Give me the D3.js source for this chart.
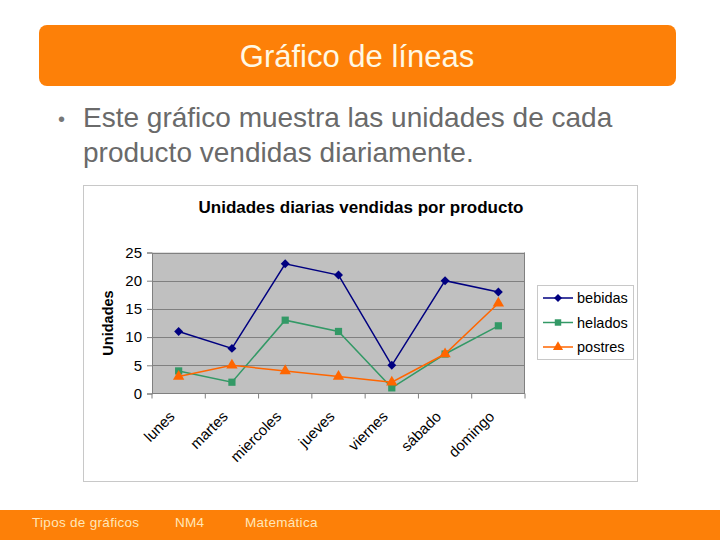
<!DOCTYPE html>
<html>
<head>
<meta charset="utf-8">
<script src="https://cdn.jsdelivr.net/npm/d3@7"></script>
<style>
  html, body { margin: 0; padding: 0; background: #fff; }
  svg { display: block; font-family: "Liberation Sans", Arial, sans-serif; }
</style>
</head>
<body>
<div id="viz"></div>
<script>
const days = ["lunes", "martes", "miercoles", "jueves", "viernes", "sábado", "domingo"];
const bebidas = [11, 8, 23, 21, 5, 20, 18];
const helados = [4, 2, 13, 11, 1, 7, 12];
const postres = [3, 5, 4, 3, 2, 7, 16];
const yTicks = [0, 5, 10, 15, 20, 25];
const footerItems = [
  { text: "Tipos de gráficos", x: 32 },
  { text: "NM4", x: 175 },
  { text: "Matemática", x: 245 },
];

// diamond = square turned 45 degrees, like the spreadsheet marker
const series = [
  { name: "bebidas", values: bebidas, color: "#000080", symbol: d3.symbolSquare, size: 40, rot: 45 },
  { name: "helados", values: helados, color: "#339966", symbol: d3.symbolSquare, size: 52, rot: 0 },
  { name: "postres", values: postres, color: "#FF6600", symbol: d3.symbolTriangle, size: 56, rot: 0 },
];

const W = 720, H = 540;
const svg = d3.select("#viz").append("svg").attr("width", W).attr("height", H);

// slide header
svg.append("rect")
  .attr("x", 39).attr("y", 25).attr("width", 637).attr("height", 61)
  .attr("rx", 8).attr("fill", "#FD8008");
svg.append("text")
  .attr("x", 357).attr("y", 67)
  .attr("text-anchor", "middle")
  .attr("fill", "#FFF8E4").attr("font-size", 31)
  .text("Gráfico de líneas");

// bullet text
svg.append("text").attr("x", 58).attr("y", 126)
  .attr("fill", "#777").attr("font-size", 20).text("•");
svg.append("text").attr("x", 83).attr("y", 127)
  .attr("fill", "#6a6a6a").attr("font-size", 28)
  .text("Este gráfico muestra las unidades de cada");
svg.append("text").attr("x", 83).attr("y", 162)
  .attr("fill", "#6a6a6a").attr("font-size", 28)
  .text("producto vendidas diariamente.");

// chart frame
svg.append("rect")
  .attr("x", 83.5).attr("y", 185.5).attr("width", 554).attr("height", 296)
  .attr("fill", "#fff").attr("stroke", "#c8c8c8");

svg.append("text")
  .attr("x", 361).attr("y", 213)
  .attr("text-anchor", "middle")
  .attr("font-weight", "bold").attr("font-size", 17)
  .attr("fill", "#000")
  .text("Unidades diarias vendidas por producto");

const plot = { left: 152, right: 525, top: 252.5, bottom: 393.5 };

const x = d3.scaleBand().domain(days).range([plot.left, plot.right]);
const y = d3.scaleLinear().domain([0, 25]).range([plot.bottom, plot.top]);

svg.append("rect")
  .attr("x", plot.left).attr("y", plot.top)
  .attr("width", plot.right - plot.left).attr("height", plot.bottom - plot.top)
  .attr("fill", "#C0C0C0");

// gridlines
svg.append("g")
  .selectAll("line")
  .data(yTicks.filter((t) => t > 0))
  .join("line")
  .attr("x1", plot.left).attr("x2", plot.right)
  .attr("y1", (d) => Math.round(y(d)) + 0.5).attr("y2", (d) => Math.round(y(d)) + 0.5)
  .attr("stroke", "#808080");

svg.append("line")
  .attr("x1", plot.right - 0.5).attr("x2", plot.right - 0.5)
  .attr("y1", plot.top).attr("y2", plot.bottom)
  .attr("stroke", "#808080");

// y axis
const yAxis = svg.append("g")
  .attr("transform", `translate(${plot.left},0)`)
  .call(d3.axisLeft(y).tickValues(yTicks).tickSize(5).tickPadding(5));
yAxis.select(".domain").attr("stroke", "#808080");
yAxis.selectAll(".tick line").attr("stroke", "#808080");
yAxis.selectAll(".tick text")
  .attr("font-size", 15).attr("fill", "#000")
  .attr("font-family", "Liberation Sans, Arial, sans-serif");

svg.append("text")
  .attr("transform", `translate(113,323) rotate(-90)`)
  .attr("text-anchor", "middle")
  .attr("font-weight", "bold").attr("font-size", 14.5)
  .text("Unidades");

// x axis: ticks between categories
const xAxis = svg.append("g").attr("transform", `translate(0,${plot.bottom})`);
xAxis.append("line")
  .attr("x1", plot.left).attr("x2", plot.right)
  .attr("stroke", "#808080");
xAxis.selectAll("line.tk")
  .data(days.concat(["end"]))
  .join("line")
  .attr("class", "tk")
  .attr("x1", (d, i) => plot.left + i * x.step())
  .attr("x2", (d, i) => plot.left + i * x.step())
  .attr("y1", 0).attr("y2", 5)
  .attr("stroke", "#808080");
xAxis.selectAll("text")
  .data(days)
  .join("text")
  .attr("transform", (d) => `translate(${x(d) + x.bandwidth() / 2 - 3},${24}) rotate(-45)`)
  .attr("text-anchor", "end")
  .attr("font-size", 15)
  .attr("fill", "#000")
  .text((d) => d);

// lines and markers
const line = d3.line()
  .x((d, i) => x(days[i]) + x.bandwidth() / 2)
  .y((d) => y(d));

series.forEach((s) => {
  const g = svg.append("g");
  g.append("path")
    .attr("d", line(s.values))
    .attr("fill", "none")
    .attr("stroke", s.color)
    .attr("stroke-width", 1.5);
  g.selectAll("path.pt")
    .data(s.values)
    .join("path")
    .attr("class", "pt")
    .attr("transform", (d, i) => `translate(${x(days[i]) + x.bandwidth() / 2},${y(d)}) rotate(${s.rot})`)
    .attr("d", d3.symbol().type(s.symbol).size(s.size))
    .attr("fill", s.color);
});

// legend
const legend = svg.append("g");
legend.append("rect")
  .attr("x", 537.5).attr("y", 285.5).attr("width", 96).attr("height", 74)
  .attr("fill", "#fff").attr("stroke", "#c8c8c8");
series.forEach((s, i) => {
  const ly = 298 + i * 24.5;
  legend.append("line")
    .attr("x1", 543).attr("x2", 573).attr("y1", ly).attr("y2", ly)
    .attr("stroke", s.color).attr("stroke-width", 1.5);
  legend.append("path")
    .attr("transform", `translate(558,${ly}) rotate(${s.rot})`)
    .attr("d", d3.symbol().type(s.symbol).size(s.size * 0.8))
    .attr("fill", s.color);
  legend.append("text")
    .attr("x", 577).attr("y", ly + 5)
    .attr("font-size", 14.5).attr("fill", "#000")
    .text(s.name);
});

// footer
svg.append("rect")
  .attr("x", 0).attr("y", 510).attr("width", W).attr("height", 30)
  .attr("fill", "#FD8008");
svg.selectAll("text.foot")
  .data(footerItems)
  .join("text")
  .attr("class", "foot")
  .attr("x", (d) => d.x).attr("y", 527)
  .attr("font-size", 13.5)
  .attr("letter-spacing", 0.3)
  .attr("fill", "#FFE6B8")
  .text((d) => d.text);
</script>
</body>
</html>
